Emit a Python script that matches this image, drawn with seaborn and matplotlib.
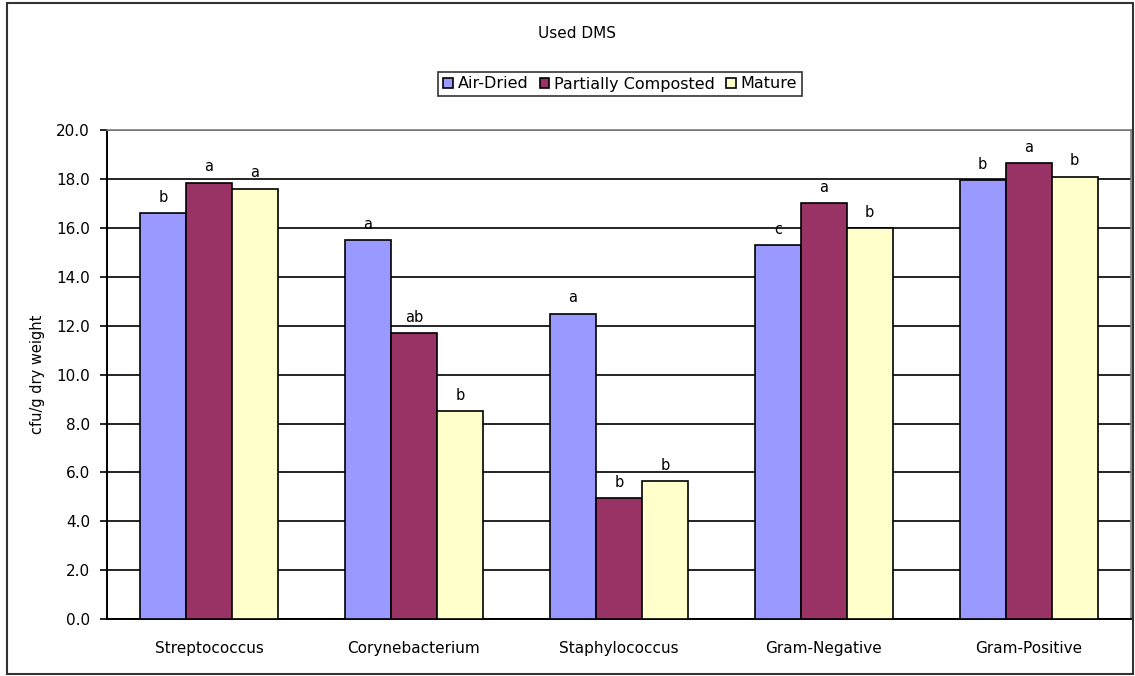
import matplotlib
matplotlib.use("Agg")
import matplotlib.pyplot as plt
from matplotlib.patches import Rectangle
from matplotlib.ticker import FixedLocator, FormatStrFormatter
import numpy as np
import pandas as pd
import seaborn as sns

## --- data

bacteria = ['Streptococcus', 'Corynebacterium', 'Staphylococcus',
            'Gram-Negative', 'Gram-Positive']
treatments = ['Air-Dried', 'Partially Composted', 'Mature']

air_dried = [16.6, 15.5, 12.5, 15.3, 17.95]
partially_composted = [17.85, 11.7, 4.95, 17.0, 18.65]
mature = [17.6, 8.5, 5.65, 16.0, 18.1]

## --- significance letters, one list per treatment
air_letters = ['b', 'a', 'a', 'c', 'b']
partial_letters = ['a', 'ab', 'b', 'a', 'a']
mature_letters = ['a', 'b', 'b', 'b', 'b']

colors = ['#9999FF', '#993366', '#FFFFCC']

## --- long table for seaborn
df = pd.DataFrame({
    'bacteria': bacteria * 3,
    'treatment': np.repeat(treatments, len(bacteria)),
    'value': air_dried + partially_composted + mature,
})

sns.set_style("white")
plt.rcParams['font.family'] = ['DejaVu Sans']
plt.rcParams['text.color'] = 'black'
plt.rcParams['axes.labelcolor'] = 'black'
plt.rcParams['xtick.color'] = 'black'
plt.rcParams['ytick.color'] = 'black'

fig = plt.figure(figsize=(11.35, 6.76), dpi=100)
ax = fig.add_axes([0.094, 0.084, 0.9025, 0.7235])

sns.barplot(data=df, x='bacteria', y='value', hue='treatment',
            order=bacteria, hue_order=treatments, palette=colors,
            width=0.673, gap=0, edgecolor='black', linewidth=1.2,
            saturation=1, errorbar=None, ax=ax, zorder=3)

for cont, labs in zip(ax.containers,
                      [air_letters, partial_letters, mature_letters]):
    ax.bar_label(cont, labels=labs, padding=6, fontsize=10.5)

ax.set_ylim(0, 20)
ax.set_xlim(-0.5, len(bacteria) - 0.5)
ax.yaxis.set_major_locator(FixedLocator(np.arange(0, 20.1, 2)))
ax.yaxis.set_major_formatter(FormatStrFormatter('%.1f'))
ax.yaxis.grid(True, color='black', linewidth=1.2, zorder=0)
ax.set_axisbelow(True)

## --- x ticks sit between categories like the Excel original
ax.set_xticks(np.arange(-0.5, len(bacteria), 1.0), minor=True)
ax.tick_params(axis='x', which='major', length=0, pad=16, labelsize=11)
ax.tick_params(axis='x', which='minor', length=5, width=1.2,
               direction='out', color='black')
ax.tick_params(axis='y', which='major', length=5, width=1.2,
               direction='out', color='black', pad=7, labelsize=11,
               left=True)

for side in ['left', 'bottom']:
    ax.spines[side].set_color('black')
    ax.spines[side].set_linewidth(1.4)
for side in ['top', 'right']:
    ax.spines[side].set_color('#808080')
    ax.spines[side].set_linewidth(1.2)

ax.set_xlabel('')
ax.set_ylabel('cfu/g dry weight', fontsize=10.5, labelpad=8)

## --- legend in one row above the plot
handles, labels = ax.get_legend_handles_labels()
ax.legend(handles, labels, ncol=3, loc='center',
          bbox_to_anchor=(620 / 1135, 1 - 84 / 676),
          bbox_transform=fig.transFigure, fontsize=11.5,
          frameon=True, fancybox=False, edgecolor='black',
          handlelength=0.6, handleheight=0.6, handletextpad=0.3,
          columnspacing=0.7, borderpad=0.3, borderaxespad=0)
ax.get_legend().get_frame().set_linewidth(1.2)

fig.text(577 / 1135, 1 - 33 / 676, 'Used DMS', ha='center', va='center',
         fontsize=11)

## --- outer chart border
fig.patches.append(Rectangle((7 / 1135, 2 / 676), 1126 / 1135, 671 / 676,
                             transform=fig.transFigure, fill=False,
                             edgecolor='#333333', linewidth=1.5))

fig.savefig('out.png', dpi=100)
